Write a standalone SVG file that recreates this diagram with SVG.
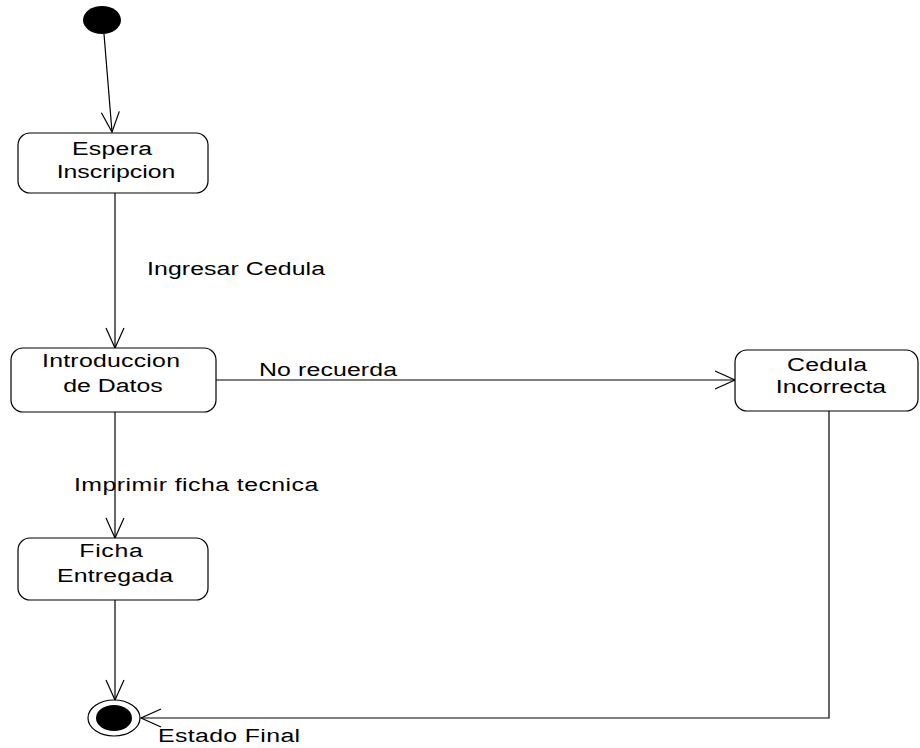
<svg xmlns="http://www.w3.org/2000/svg" width="920" height="748" viewBox="0 0 920 748">
  <style>
    .state { fill: #ffffff; stroke: #000000; stroke-width: 1.2; }
    .label { font-family: "Liberation Sans", Arial, sans-serif; font-size: 18px; fill: #000000; }
    .mid { text-anchor: middle; }
    .edge { fill: none; stroke: #000000; stroke-width: 1.2; }
  </style>
  <defs>
    <marker id="open-arrow" markerUnits="userSpaceOnUse" markerWidth="24" markerHeight="22" refX="21" refY="10" orient="auto">
      <path d="M1,1 L21,10 L1,19" fill="none" stroke="#000000" stroke-width="1.2"/>
    </marker>
  </defs>

  <!-- transitions -->
  <g id="connectors">
    <line class="edge" x1="104" y1="34" x2="112" y2="132" marker-end="url(#open-arrow)"/>
    <line class="edge" x1="115" y1="193" x2="115" y2="348" marker-end="url(#open-arrow)"/>
    <line class="edge" x1="215" y1="380" x2="735" y2="380" marker-end="url(#open-arrow)"/>
    <line class="edge" x1="115" y1="412" x2="115" y2="538" marker-end="url(#open-arrow)"/>
    <line class="edge" x1="115" y1="600" x2="115" y2="700" marker-end="url(#open-arrow)"/>
    <polyline class="edge" points="829,411 829,718 141,718" marker-end="url(#open-arrow)"/>
    <text class="label" transform="translate(147,275) scale(1.38,1)" textLength="129" lengthAdjust="spacing">Ingresar Cedula</text>
    <text class="label" transform="translate(259,376) scale(1.38,1)" textLength="100" lengthAdjust="spacing">No recuerda</text>
    <text class="label" transform="translate(74,491) scale(1.38,1)" textLength="177" lengthAdjust="spacing">Imprimir ficha tecnica</text>
  </g>

  <!-- initial pseudo-state -->
  <g id="initial">
    <ellipse cx="102" cy="20" rx="19" ry="14" fill="#000000"/>
  </g>

  <g id="espera-inscripcion">
    <rect class="state" x="18" y="133" width="190" height="60" rx="12" ry="12"/>
    <text class="label mid" transform="translate(112,155) scale(1.38,1)" textLength="58" lengthAdjust="spacing">Espera</text>
    <text class="label mid" transform="translate(116,178) scale(1.38,1)" textLength="86" lengthAdjust="spacing">Inscripcion</text>
  </g>

  <g id="introduccion-datos">
    <rect class="state" x="11" y="348" width="205" height="64" rx="12" ry="12"/>
    <text class="label mid" transform="translate(111,367) scale(1.38,1)" textLength="100" lengthAdjust="spacing">Introduccion</text>
    <text class="label mid" transform="translate(113,392) scale(1.38,1)" textLength="72" lengthAdjust="spacing">de Datos</text>
  </g>

  <g id="cedula-incorrecta">
    <rect class="state" x="735" y="350" width="183" height="61" rx="12" ry="12"/>
    <text class="label mid" transform="translate(827,371) scale(1.38,1)" textLength="58" lengthAdjust="spacing">Cedula</text>
    <text class="label mid" transform="translate(831,393) scale(1.38,1)" textLength="80" lengthAdjust="spacing">Incorrecta</text>
  </g>

  <g id="ficha-entregada">
    <rect class="state" x="18" y="538" width="190" height="62" rx="12" ry="12"/>
    <text class="label mid" transform="translate(111,557) scale(1.38,1)" textLength="46" lengthAdjust="spacing">Ficha</text>
    <text class="label mid" transform="translate(115,582) scale(1.38,1)" textLength="84" lengthAdjust="spacing">Entregada</text>
  </g>

  <!-- final state -->
  <g id="estado-final">
    <ellipse cx="114" cy="718" rx="26" ry="18" fill="#ffffff" stroke="#000000" stroke-width="1.2"/>
    <ellipse cx="114" cy="718" rx="18" ry="13" fill="#000000"/>
    <text class="label" transform="translate(158,742) scale(1.38,1)" textLength="103" lengthAdjust="spacing">Estado Final</text>
  </g>
</svg>
